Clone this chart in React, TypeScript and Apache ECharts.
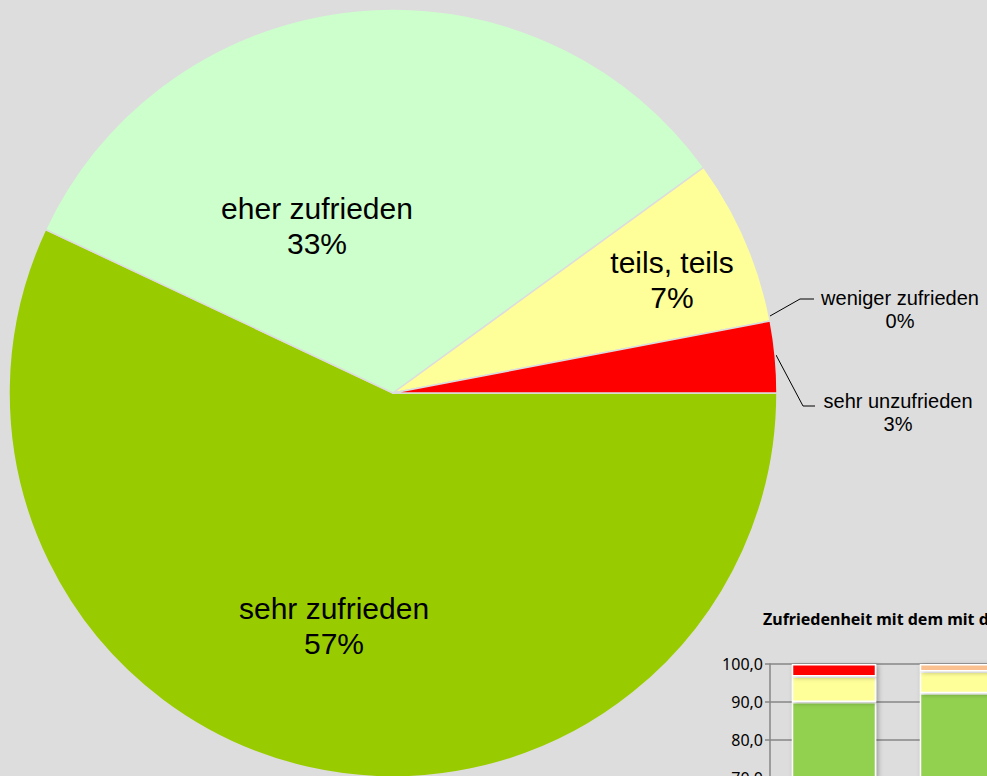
import React, { useEffect, useRef } from 'react';
import * as echarts from 'echarts';

// Pie data
const pieCategories = ['sehr zufrieden', 'eher zufrieden', 'teils, teils', 'weniger zufrieden', 'sehr unzufrieden'];
const pieValues = [57, 33, 7, 0, 3];
const pieColors = ['#99CC00', '#CCFFCC', '#FFFF99', '#FF9900', '#FF0000'];

// Small stacked bar chart (partly visible in the lower right)
const barTitle = 'Zufriedenheit mit dem mit d';
const barCategories = ['Befragung 1', 'Befragung 2'];
const barSeriesNames = ['zufrieden', 'teils, teils', 'weniger zufrieden', 'sehr unzufrieden'];
const barZufrieden = [90.0, 92.3];
const barTeils = [6.7, 5.7];
const barWeniger = [0, 2.0];
const barSehrUnzufrieden = [3.3, 0];
const barColors = ['#92D050', '#FFFF99', '#FAC090', '#FF0000'];
const barAxisMin = 70;
const barAxisMax = 100;
const barAxisStep = 10;

// layout constants (not data)
const labelPos: number[][] = [[334, 626], [317, 226], [672, 280], [900, 309], [898, 412]];
const leaderLines: Record<number, number[][]> = {
  3: [[770, 316], [800, 299], [814, 299]],
  4: [[776, 355], [803, 406], [815, 406]],
};

export default function App() {
  const ref = useRef<HTMLDivElement>(null);
  useEffect(() => {
    if (!ref.current) return;
    const chart = echarts.init(ref.current, null, { renderer: 'svg' });
    const barData = [barZufrieden, barTeils, barWeniger, barSehrUnzufrieden];
    chart.setOption({
      animation: false,
      backgroundColor: '#DDDDDD',
      title: {
        text: barTitle,
        left: 763,
        top: 611,
        padding: 0,
        textStyle: { fontFamily: 'Noto Sans', fontWeight: 'bold', fontSize: 16, color: '#000' },
      },
      grid: { left: 770, top: 664, width: 256, height: 114, containLabel: false, outerBoundsMode: 'none' },
      xAxis: {
        type: 'category',
        data: barCategories,
        axisLabel: { show: false },
        axisTick: { show: false },
        axisLine: { show: true, lineStyle: { color: '#868686' } },
      },
      yAxis: {
        type: 'value',
        min: barAxisMin,
        max: barAxisMax,
        interval: barAxisStep,
        axisLine: { show: true, lineStyle: { color: '#868686', width: 1.5 } },
        axisTick: { show: true, length: 5, lineStyle: { color: '#868686', width: 1.5 } },
        splitLine: { show: true, lineStyle: { color: '#868686', width: 1.5 } },
        axisLabel: {
          margin: 7,
          fontFamily: 'Noto Sans',
          fontSize: 16,
          color: '#000',
          formatter: (v: number) => v.toFixed(1).replace('.', ','),
        },
      },
      series: [
        ...barSeriesNames.map((name, i) => ({
          type: 'bar',
          name,
          stack: 'total',
          barWidth: '66%',
          data: barData[i],
          itemStyle: {
            color: barColors[i],
            borderColor: '#FFFFFF',
            borderWidth: 1.5,
            shadowColor: 'rgba(0,0,0,0.3)',
            shadowBlur: 5,
            shadowOffsetX: 2,
            shadowOffsetY: 1,
          },
          z: 3,
        })),
        {
          type: 'pie',
          center: [393, 393],
          radius: 384,
          startAngle: 0,
          clockwise: true,
          percentPrecision: 0,
          avoidLabelOverlap: false,
          itemStyle: { borderColor: '#DDDDDD', borderWidth: 1.5 },
          label: {
            show: true,
            formatter: '{b}\n{d}%',
            color: '#000',
            fontFamily: 'Liberation Sans, Arial, sans-serif',
          },
          labelLine: { show: false, smooth: false, lineStyle: { color: '#000', width: 1 } },
          labelLayout: (p: any) => {
            const [x, y] = labelPos[p.dataIndex];
            const r: any = { x, y, align: 'center', verticalAlign: 'middle' };
            if (leaderLines[p.dataIndex]) r.labelLinePoints = leaderLines[p.dataIndex];
            return r;
          },
          data: pieCategories.map((name, i) => ({
            name,
            value: pieValues[i],
            itemStyle: { color: pieColors[i] },
            label: i >= 3
              ? { position: 'outside', fontSize: 20, lineHeight: 23, align: 'center' }
              : { position: 'inside', fontSize: 30, lineHeight: 35, align: 'center' },
            labelLine: { show: i >= 3, length: 10, length2: 10 },
          })),
          z: 1,
        },
      ],
    });
    return () => chart.dispose();
  }, []);
  return (
    <div
      ref={ref}
      style={{ position: 'absolute', left: 0, top: 0, width: 987, height: 776 }}
    />
  );
}
